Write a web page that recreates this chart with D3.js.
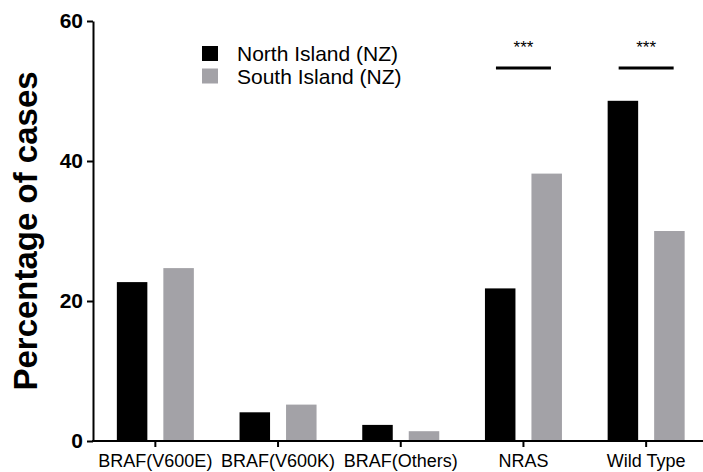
<!DOCTYPE html>
<head>
  <meta charset="utf-8">
  <title>Percentage of cases by island</title>
</head>
<style>
  body {
    margin: 0;
    background: #fff;
  }
  svg {
    display: block;
    font-family: "Liberation Sans", Arial, sans-serif;
  }
  .axis path,
  .axis line {
    stroke: #000;
    stroke-width: 2;
  }
  .y.axis text {
    font-size: 21px;
    font-weight: bold;
    fill: #000;
  }
  .x.axis text {
    font-size: 18px;
    fill: #000;
  }
  .legend text {
    font-size: 21px;
  }
</style>
<svg width="703" height="472"></svg>
<script src="https://cdn.jsdelivr.net/npm/d3@7"></script>
<script>
  // data
  var categories = ["BRAF(V600E)", "BRAF(V600K)", "BRAF(Others)", "NRAS", "Wild Type"];
  var series = ["North Island (NZ)", "South Island (NZ)"];
  var northValues = [22.7, 4.1, 2.3, 21.8, 48.6];
  var southValues = [24.7, 5.2, 1.4, 38.2, 30.0];
  var yTicks = [0, 20, 40, 60];
  var sigCategories = ["NRAS", "Wild Type"];
  var sigLabels = ["***", "***"];
  var sigLevel = 53.3;

  var colors = ["#000000", "#a3a2a7"];

  var svg = d3.select("svg"),
    plotLeft = 93,
    plotBottom = 441,
    plotTop = 21;

  var x0 = d3.scaleBand()
    .domain(categories)
    .range([94, 707.5]);

  var bw = x0.bandwidth();

  var x1 = d3.scaleBand()
    .domain(series)
    .range([bw / 2 - 38.5, bw / 2 + 38.5])
    .paddingInner(0.344);

  var y = d3.scaleLinear()
    .domain([0, 60])
    .range([plotBottom, plotTop]);

  var color = d3.scaleOrdinal(series, colors);

  var rows = categories.map(function (c, i) {
    return { cat: c, values: [northValues[i], southValues[i]] };
  });

  // bars
  var group = svg.append("g").selectAll("g")
    .data(rows)
    .enter().append("g")
    .attr("transform", function (d) { return "translate(" + x0(d.cat) + ",0)"; });

  group.selectAll("rect")
    .data(function (d) {
      return series.map(function (s, j) { return { key: s, value: d.values[j] }; });
    })
    .enter().append("rect")
    .attr("x", function (d) { return x1(d.key); })
    .attr("width", x1.bandwidth())
    .attr("y", function (d) { return y(d.value); })
    .attr("height", function (d) { return plotBottom - y(d.value); })
    .attr("fill", function (d) { return color(d.key); });

  // axes
  svg.append("g")
    .attr("class", "x axis")
    .attr("transform", "translate(0," + plotBottom + ")")
    .call(d3.axisBottom(x0).tickSize(6).tickSizeOuter(0).tickPadding(7));

  svg.select(".x.axis .domain").attr("d", "M" + (plotLeft - 1) + ",0H" + 703);

  svg.append("g")
    .attr("class", "y axis")
    .attr("transform", "translate(" + plotLeft + ",0)")
    .call(d3.axisLeft(y).tickValues(yTicks).tickSize(6).tickSizeOuter(0).tickPadding(4));

  svg.append("text")
    .attr("transform", "translate(37," + (plotTop + plotBottom) / 2 + ") rotate(-90)")
    .attr("text-anchor", "middle")
    .style("font-size", "33px")
    .style("font-weight", "bold")
    .text("Percentage of cases");

  // significance marks
  var sig = svg.append("g").selectAll("g")
    .data(sigCategories)
    .enter().append("g");

  sig.append("line")
    .attr("x1", function (d) { return x0(d) + bw / 2 - 27.5; })
    .attr("x2", function (d) { return x0(d) + bw / 2 + 27.5; })
    .attr("y1", y(sigLevel))
    .attr("y2", y(sigLevel))
    .attr("stroke", "#000")
    .attr("stroke-width", 3);

  sig.append("text")
    .attr("x", function (d) { return x0(d) + bw / 2; })
    .attr("y", y(sigLevel) - 15)
    .attr("text-anchor", "middle")
    .style("font-size", "17px")
    .text(function (d, i) { return sigLabels[i]; });

  // legend
  var legend = svg.append("g")
    .attr("class", "legend")
    .selectAll("g")
    .data(series)
    .enter().append("g")
    .attr("transform", function (d, i) { return "translate(202," + (46 + i * 22.5) + ")"; });

  legend.append("rect")
    .attr("width", 16)
    .attr("height", 15)
    .attr("fill", function (d) { return color(d); });

  legend.append("text")
    .attr("x", 35)
    .attr("y", 15)
    .text(function (d) { return d; });
</script>
